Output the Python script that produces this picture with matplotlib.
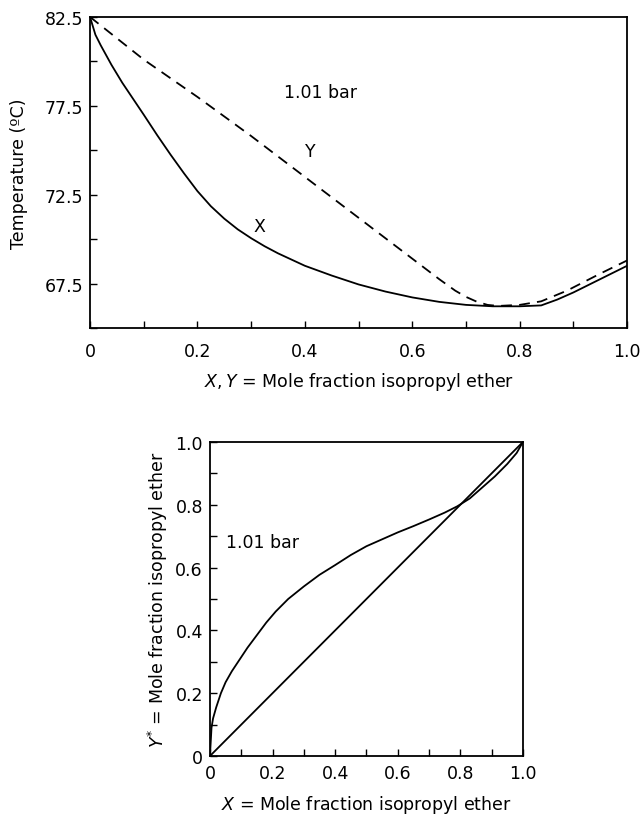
import matplotlib

matplotlib.use("Agg")
import matplotlib.pyplot as plt
from matplotlib.ticker import MultipleLocator, FuncFormatter

# T-x-y diagram at 1.01 bar (isopropyl ether)
liquid_x = [0, 0.005, 0.01, 0.02, 0.04, 0.06, 0.08, 0.10, 0.125, 0.15, 0.175,
            0.20, 0.225, 0.25, 0.275, 0.30, 0.325, 0.35, 0.40, 0.45, 0.50,
            0.55, 0.60, 0.65, 0.70, 0.75, 0.80, 0.84, 0.87, 0.90, 0.93, 0.96, 1.0]
liquid_t = [82.5, 82.0, 81.5, 80.9, 79.8, 78.8, 77.9, 77.0, 75.85, 74.75, 73.7,
            72.7, 71.85, 71.15, 70.55, 70.05, 69.6, 69.2, 68.5, 67.95, 67.45,
            67.05, 66.72, 66.47, 66.3, 66.22, 66.22, 66.27, 66.6, 67.0, 67.45,
            67.9, 68.5]

vapor_x = [0, 0.1, 0.2, 0.3, 0.4, 0.5, 0.6, 0.65, 0.68, 0.70, 0.72, 0.74,
           0.76, 0.80, 0.84, 0.888, 0.95, 1.0]
vapor_t = [82.5, 80.1, 78.0, 75.8, 73.5, 71.2, 68.9, 67.75, 67.1, 66.75, 66.48,
           66.3, 66.24, 66.3, 66.5, 67.1, 68.06, 68.8]

# y*-x equilibrium curve
eq_x = [0, 0.005, 0.01, 0.02, 0.035, 0.05, 0.07, 0.09, 0.12, 0.15, 0.18, 0.21,
        0.25, 0.30, 0.35, 0.40, 0.45, 0.50, 0.55, 0.60, 0.65, 0.70, 0.75, 0.79,
        0.83, 0.87, 0.91, 0.95, 0.98, 1.0]
eq_y = [0, 0.09, 0.12, 0.155, 0.2, 0.235, 0.27, 0.30, 0.345, 0.385, 0.425,
        0.46, 0.50, 0.54, 0.577, 0.608, 0.64, 0.668, 0.69, 0.712, 0.732, 0.753,
        0.775, 0.795, 0.82, 0.855, 0.89, 0.93, 0.965, 1.0]
diag = [0, 1]

top_yticks = [67.5, 72.5, 77.5, 82.5]
pressure_label = "1.01 bar"

FS = 12.5
LW = 1.3


def plain(v, pos):
    return "0" if v == 0 else f"{v:.1f}"


def style_axes(ax, pad):
    for side in ("top", "right", "left", "bottom"):
        ax.spines[side].set_linewidth(LW)
    ax.tick_params(which="both", direction="in", top=False, right=False,
                   length=5, width=1.0, labelsize=FS)
    ax.tick_params(axis="x", which="both", pad=pad)
    ax.tick_params(axis="y", which="both", pad=5)
    ax.xaxis.set_major_locator(MultipleLocator(0.2))
    ax.xaxis.set_minor_locator(MultipleLocator(0.1))
    ax.xaxis.set_major_formatter(FuncFormatter(plain))


fig = plt.figure(figsize=(6.44, 8.2), dpi=100)

# top panel: temperature vs composition
ax1 = fig.add_axes([0.1398, 0.5988, 0.834, 0.3793])
ax1.plot(liquid_x, liquid_t, color="black", lw=LW)
ax1.plot(vapor_x, vapor_t, color="black", lw=LW, dashes=(6, 4))
ax1.set_xlim(0, 1.0)
ax1.set_ylim(65.0, 82.5)
style_axes(ax1, pad=10)
ax1.set_yticks(top_yticks)
ax1.yaxis.set_minor_locator(MultipleLocator(2.5))
ax1.set_ylabel("Temperature (\u00baC)", fontsize=FS, labelpad=12)
ax1.set_xlabel(r"$X,Y$ = Mole fraction isopropyl ether", fontsize=FS, labelpad=7)
ax1.text(0.43, 78.3, pressure_label, fontsize=FS, ha="center", va="center")
ax1.text(0.315, 70.75, "X", fontsize=FS, ha="center", va="center")
ax1.text(0.41, 74.95, "Y", fontsize=FS, ha="center", va="center")

# bottom panel: y* vs x
ax2 = fig.add_axes([0.326, 0.0768, 0.486, 0.383])
ax2.plot(eq_x, eq_y, color="black", lw=LW)
ax2.plot(diag, diag, color="black", lw=LW)
ax2.set_xlim(0, 1.0)
ax2.set_ylim(0, 1.0)
style_axes(ax2, pad=6)
ax2.yaxis.set_major_locator(MultipleLocator(0.2))
ax2.yaxis.set_minor_locator(MultipleLocator(0.1))
ax2.yaxis.set_major_formatter(FuncFormatter(plain))
ax2.set_xlabel(r"$X$ = Mole fraction isopropyl ether", fontsize=FS, labelpad=8)
ax2.set_ylabel(r"$Y^{*}$ = Mole fraction isopropyl ether", fontsize=FS, labelpad=4)
ax2.text(0.05, 0.68, pressure_label, fontsize=FS, ha="left", va="center")

fig.savefig("out.png", dpi=100)
plt.close(fig)
